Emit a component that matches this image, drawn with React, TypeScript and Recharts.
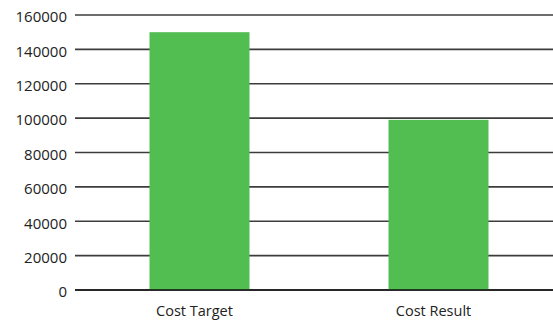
import { Bar, BarChart, CartesianGrid, XAxis, YAxis } from 'recharts';

const categories = ['Cost Target', 'Cost Result'];
const costValues = [150000, 99000];
const yTicks = [0, 20000, 40000, 60000, 80000, 100000, 120000, 140000, 160000];

const data = categories.map((name, i) => ({ name, cost: costValues[i] }));

const font = '"Open Sans", sans-serif';

// bars sit a few px right of the band centre in the original
const ShiftedBar = (props: any) => {
  const { x, y, width, height, fill } = props;
  return <rect x={x + 4.5} y={y} width={width} height={height} fill={fill} />;
};

export default function App() {
  return (
    <div style={{ position: 'fixed', left: 0, top: 0, width: 553, height: 321, overflow: 'hidden', background: '#fff' }}>
      <BarChart width={553} height={321} data={data} margin={{ top: 15, right: 0, left: 0, bottom: 0 }}>
        <CartesianGrid vertical={false} stroke='#3c3c3c' strokeWidth={1.6} />
        <XAxis
          dataKey='name'
          height={31}
          tickLine={false}
          tickSize={0}
          tickMargin={16}
          axisLine={{ stroke: '#111', strokeWidth: 1.6 }}
          tick={{ fill: '#222', fontSize: 14.5, fontFamily: font }}
        />
        <YAxis
          width={75}
          domain={[0, 160000]}
          ticks={yTicks}
          interval={0}
          axisLine={false}
          tickLine={false}
          tickSize={0}
          tickMargin={8}
          tick={{ fill: '#222', fontSize: 15, fontFamily: font, dy: 2 }}
        />
        <Bar dataKey='cost' fill='#52bd51' barSize={100} shape={ShiftedBar} isAnimationActive={false} />
      </BarChart>
    </div>
  );
}
